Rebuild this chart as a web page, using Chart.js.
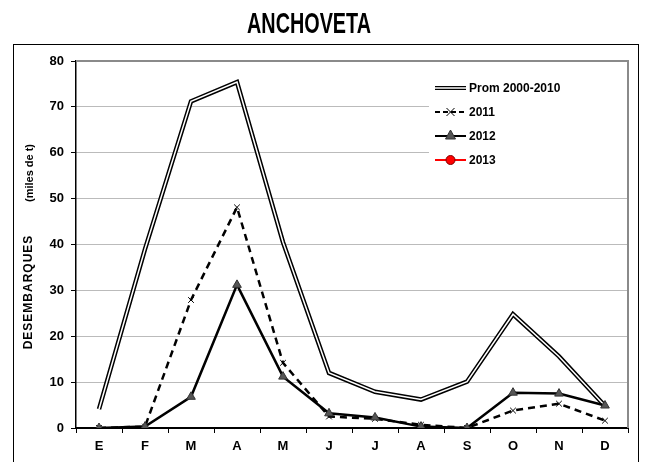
<!DOCTYPE html>
<html>
<head>
<meta charset="utf-8">
<title>ANCHOVETA</title>
<script src="https://cdn.jsdelivr.net/npm/chart.js"></script>
<style>
    html, body { margin: 0; padding: 0; background: #fff; }
    #wrap { width: 647px; height: 462px; }
</style>
</head>
<body>
<div id="wrap"><canvas id="myChart" width="647" height="462"></canvas></div>
<script>
// 1. Data
const months = ["E", "F", "M", "A", "M", "J", "J", "A", "S", "O", "N", "D"];
const prom0010 = [4.1, 39, 71.2, 75.4, 40.5, 12.0, 7.9, 6.2, 10.1, 24.8, 15.6, 4.8];
const y2011 = [0, 0.3, 27.9, 48.1, 14.2, 2.5, 2.0, 0.7, 0, 3.8, 5.3, 1.6];
const y2012 = [0, 0.3, 6.8, 31.2, 11.2, 3.2, 2.3, 0.3, 0, 7.7, 7.5, 4.9];
const y2013 = [null, null, null, null, null, null, null, null, null, null, null, null];
const legendNames = ["Prom 2000-2010", "2011", "2012", "2013"];
const chartTitle = "ANCHOVETA";
const yTitle = "DESEMBARQUES";
const yUnit = "(miles de t)";

const BOLD = "'Liberation Sans', Arial, sans-serif";

// 2. Small marker helper for the legend
function marker(ctx, style, x, y, r, fill, stroke) {
    ctx.save();
    ctx.fillStyle = fill;
    ctx.strokeStyle = stroke;
    ctx.lineWidth = 1;
    ctx.setLineDash([]);
    ctx.beginPath();
    if (style === "triangle") {
        ctx.moveTo(x, y - r);
        ctx.lineTo(x + r, y + r * 0.8);
        ctx.lineTo(x - r, y + r * 0.8);
        ctx.closePath();
        ctx.fill();
        ctx.stroke();
    } else if (style === "circle") {
        ctx.arc(x, y, r, 0, Math.PI * 2);
        ctx.fill();
        ctx.stroke();
    } else if (style === "crossRot") {
        ctx.moveTo(x - r, y - r); ctx.lineTo(x + r, y + r);
        ctx.moveTo(x + r, y - r); ctx.lineTo(x - r, y + r);
        ctx.stroke();
    }
    ctx.restore();
}

// 3. Frame, title, axis title and legend
const decor = {
    id: "decor",
    beforeDraw(chart) {
        const ctx = chart.ctx;
        ctx.save();
        ctx.fillStyle = "#fff";
        ctx.fillRect(0, 0, chart.width, chart.height);
        ctx.strokeStyle = "#000";
        ctx.lineWidth = 1;
        ctx.strokeRect(13.5, 44.5, 625, 430);
        ctx.restore();
    },
    afterDatasetsDraw(chart) {
        const ctx = chart.ctx;
        const a = chart.chartArea;
        ctx.save();

        // plot border top / right (grey)
        ctx.strokeStyle = "#8a8a8a";
        ctx.lineWidth = 2;
        ctx.beginPath();
        ctx.moveTo(a.left, a.top);
        ctx.lineTo(a.right, a.top);
        ctx.lineTo(a.right, a.bottom);
        ctx.stroke();

        // title (condensed look)
        ctx.save();
        ctx.fillStyle = "#000";
        ctx.textAlign = "center";
        ctx.textBaseline = "alphabetic";
        ctx.font = "bold 30px " + BOLD;
        ctx.translate(309, 33);
        ctx.scale(0.66, 1);
        ctx.fillText(chartTitle, 0, 0);
        ctx.restore();

        // y axis title
        ctx.save();
        ctx.fillStyle = "#000";
        ctx.textAlign = "center";
        ctx.translate(29, 0);
        ctx.rotate(-Math.PI / 2);
        ctx.textBaseline = "middle";
        ctx.font = "bold 12px " + BOLD;
        ctx.letterSpacing = "1px";
        ctx.fillText(yTitle, -292, 0);
        ctx.letterSpacing = "0px";
        ctx.font = "bold 11px " + BOLD;
        ctx.fillText(yUnit, -173, 1);
        ctx.restore();

        // legend box
        ctx.fillStyle = "#fff";
        ctx.fillRect(429, 72, a.right - 430, 100);
        const rows = [88, 112, 136, 160];
        ctx.font = "bold 12px " + BOLD;
        ctx.textAlign = "left";
        ctx.textBaseline = "middle";
        legendNames.forEach((name, i) => {
            const y = rows[i];
            ctx.save();
            if (i === 0) {
                ctx.strokeStyle = "#000"; ctx.lineWidth = 4;
                ctx.beginPath(); ctx.moveTo(435, y); ctx.lineTo(466, y); ctx.stroke();
                ctx.strokeStyle = "#fff"; ctx.lineWidth = 1.5;
                ctx.beginPath(); ctx.moveTo(435, y); ctx.lineTo(466, y); ctx.stroke();
            } else if (i === 1) {
                ctx.strokeStyle = "#000"; ctx.lineWidth = 2; ctx.setLineDash([5, 3]);
                ctx.beginPath(); ctx.moveTo(435, y); ctx.lineTo(466, y); ctx.stroke();
                marker(ctx, "crossRot", 450.5, y, 4, "#000", "#000");
            } else if (i === 2) {
                ctx.strokeStyle = "#000"; ctx.lineWidth = 2;
                ctx.beginPath(); ctx.moveTo(435, y); ctx.lineTo(466, y); ctx.stroke();
                marker(ctx, "triangle", 450.5, y - 1, 5, "#555", "#333");
            } else {
                ctx.strokeStyle = "#ff0000"; ctx.lineWidth = 2;
                ctx.beginPath(); ctx.moveTo(435, y); ctx.lineTo(466, y); ctx.stroke();
                marker(ctx, "circle", 450.5, y, 4.5, "#ff0000", "#800000");
            }
            ctx.restore();
            ctx.fillStyle = "#000";
            ctx.fillText(name, 469, y + 1);
        });
        ctx.restore();
    }
};

// 4. Chart
const ctx = document.getElementById("myChart").getContext("2d");
const chart = new Chart(ctx, {
    type: "line",
    data: {
        labels: months,
        datasets: [
            {
                label: legendNames[3],
                data: y2013,
                borderColor: "#ff0000",
                borderWidth: 2,
                pointStyle: "circle",
                pointRadius: 4.5,
                pointBackgroundColor: "#ff0000",
                pointBorderColor: "#800000",
                order: 0
            },
            {
                label: legendNames[2],
                data: y2012,
                borderColor: "#000",
                borderWidth: 2.5,
                pointStyle: "triangle",
                pointRadius: 5,
                pointBackgroundColor: "#555",
                pointBorderColor: "#333",
                pointBorderWidth: 1,
                order: 1
            },
            {
                label: legendNames[1],
                data: y2011,
                borderColor: "#000",
                borderWidth: 2.5,
                borderDash: [7, 5],
                pointStyle: "crossRot",
                pointRadius: 4,
                pointBorderColor: "#000",
                pointBorderWidth: 1,
                order: 2
            },
            {
                label: legendNames[0] + " inner",
                data: prom0010,
                borderColor: "#fff",
                borderWidth: 1.5,
                pointRadius: 0,
                order: 3
            },
            {
                label: legendNames[0],
                data: prom0010,
                borderColor: "#000",
                borderWidth: 4.5,
                pointRadius: 0,
                order: 4
            }
        ]
    },
    options: {
        responsive: false,
        animation: false,
        devicePixelRatio: 1,
        layout: { padding: { top: 61, right: 19, left: 0, bottom: 0 } },
        elements: { line: { tension: 0, fill: false } },
        plugins: {
            legend: { display: false },
            title: { display: false },
            tooltip: { enabled: false }
        },
        scales: {
            x: {
                offset: true,
                afterFit: s => { s.height = 34; },
                grid: {
                    offset: true,
                    drawOnChartArea: false,
                    tickLength: 5,
                    color: "#000",
                    tickColor: "#000"
                },
                border: { display: true, color: "#000", width: 2 },
                ticks: {
                    color: "#000",
                    font: { family: BOLD, size: 13, weight: "bold" },
                    padding: 6,
                    maxRotation: 0,
                    autoSkip: false
                }
            },
            y: {
                min: 0,
                max: 80,
                afterFit: s => { s.width = 76; },
                grid: {
                    color: c => (c.tick && (c.tick.value === 0 || c.tick.value === 80)) ? "rgba(0,0,0,0)" : "#777",
                    lineWidth: 1,
                    tickLength: 5,
                    tickColor: "#000",
                    tickBorderDash: []
                },
                border: { display: true, color: "#000", width: 1.5, dash: [1, 1] },
                ticks: {
                    stepSize: 10,
                    color: "#000",
                    font: { family: BOLD, size: 13, weight: "bold" },
                    padding: 7
                }
            }
        }
    },
    plugins: [decor]
});
</script>
</body>
</html>
